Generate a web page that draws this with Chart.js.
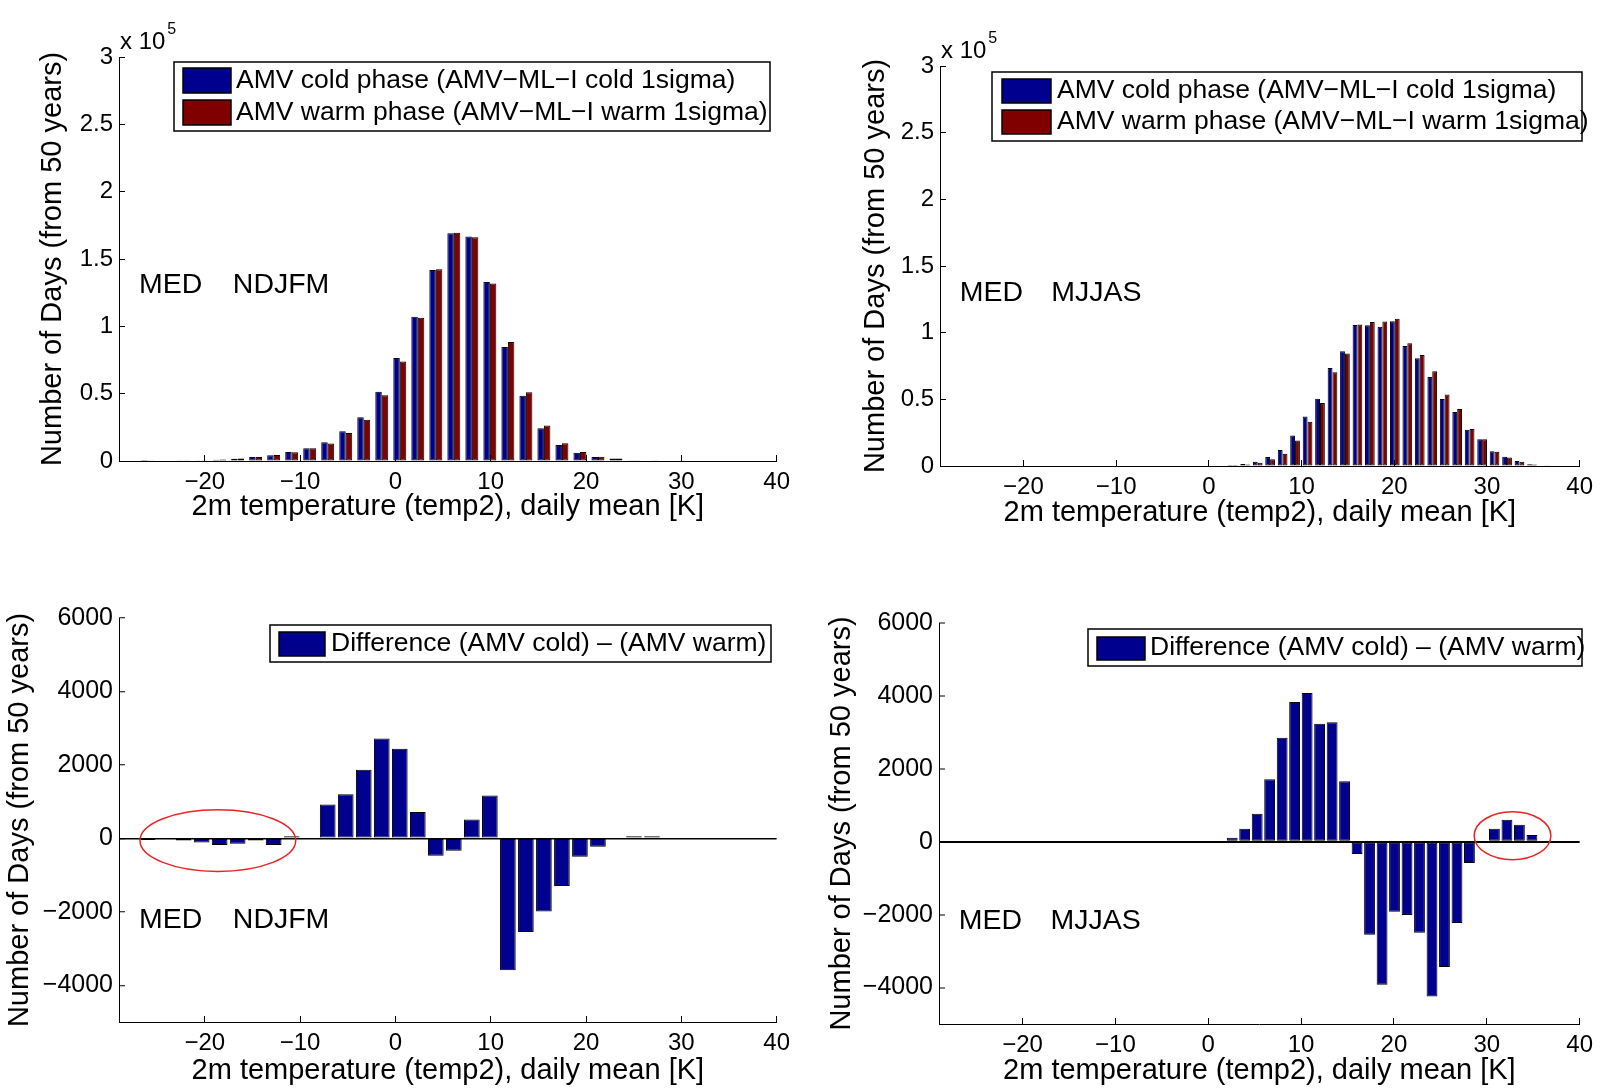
<!DOCTYPE html>
<html>
<head>
<meta charset="utf-8">
<script src="https://cdn.jsdelivr.net/npm/chart.js@4.4.1/dist/chart.umd.min.js"></script>
<style>
html,body{margin:0;padding:0;background:#fff;}
#wrap{position:relative;width:1606px;height:1089px;overflow:hidden;background:#fff;}
canvas{position:absolute;display:block;}
</style>
</head>
<body>
<div id="wrap">
  <canvas id="c1" width="803" height="540" style="left:0;top:0"></canvas>
  <canvas id="c2" width="803" height="540" style="left:803px;top:0"></canvas>
  <canvas id="c3" width="803" height="549" style="left:0;top:540px"></canvas>
  <canvas id="c4" width="803" height="549" style="left:803px;top:540px"></canvas>
</div>
<script>
// ---------------- DATA ----------------
const xTickValues = [-20, -10, 0, 10, 20, 30, 40];
const xTickLabels = ['\u221220', '\u221210', '0', '10', '20', '30', '40'];

const countTicks = [0, 50000, 100000, 150000, 200000, 250000, 300000];
const countTickLabels = ['0', '0.5', '1', '1.5', '2', '2.5', '3'];
const diffTicks = [-4000, -2000, 0, 2000, 4000, 6000];
const diffTickLabels = ['\u22124000', '\u22122000', '0', '2000', '4000', '6000'];

const seriesNames = ['AMV cold phase (AMV\u2212ML\u2212I cold 1sigma)', 'AMV warm phase (AMV\u2212ML\u2212I warm 1sigma)'];
const diffName = 'Difference (AMV cold) \u2013 (AMV warm)';
const xTitle = '2m temperature (temp2), daily mean [K]';
const yTitle = 'Number of Days (from 50 years)';
const regionLabel = 'MED';
const seasonLabels = ['NDJFM', 'MJJAS'];

// NDJFM (winter) bin centres [K]
const winterBins = [-26.00, -24.11, -22.22, -20.33, -18.44, -16.55, -14.66, -12.77, -10.88, -8.99,
  -7.10, -5.21, -3.32, -1.43, 0.46, 2.35, 4.24, 6.13, 8.02, 9.91,
  11.80, 13.69, 15.58, 17.47, 19.36, 21.25, 23.14, 25.03, 26.92];
const winterCold = [50, 0, 200, 500, 900, 1700, 3000, 4200, 6600, 9400,
  14000, 22000, 32500, 51500, 76400, 107100, 141900, 169200, 166700, 133000,
  84700, 48500, 24400, 11800, 6200, 3000, 1800, 600, 300];
const winterWarm = [95, 0, 255, 610, 1080, 1845, 3055, 4380, 6545, 9400,
  13080, 20800, 30630, 48780, 73960, 106385, 142370, 169535, 166185, 131830,
  88290, 51050, 26390, 13100, 6700, 3225, 1800, 545, 245];
const winterDiff = [-45, 0, -55, -110, -180, -145, -55, -180, 55, 0,
  920, 1200, 1870, 2720, 2440, 715, -470, -335, 515, 1170,
  -3590, -2550, -1990, -1300, -500, -225, 0, 55, 55];

// MJJAS (summer) bin centres [K]
const summerBins = [2.58, 3.92, 5.27, 6.61, 7.96, 9.30, 10.65, 11.99, 13.34, 14.68,
  16.03, 17.37, 18.72, 20.06, 21.41, 22.75, 24.10, 25.44, 26.79, 28.13,
  29.48, 30.82, 32.17, 33.51, 34.86, 36.20];
const summerCold = [800, 1500, 3200, 6800, 12000, 22900, 37200, 50500, 73500, 86000,
  105800, 105500, 104500, 108500, 90000, 80800, 66800, 50200, 40500, 27200,
  20000, 11000, 7000, 3700, 1300, 300];
const summerWarm = [690, 1145, 2435, 5085, 9150, 19065, 33120, 47265, 70220, 84340,
  106140, 108055, 108425, 110420, 92010, 83300, 71045, 53635, 42730, 27785,
  20000, 10645, 6395, 3235, 1115, 275];
const summerDiff = [110, 355, 765, 1715, 2850, 3835, 4080, 3235, 3280, 1660,
  -340, -2555, -3925, -1920, -2010, -2500, -4245, -3435, -2230, -585,
  0, 355, 605, 465, 185, 25];

// ---------------- STYLE ----------------
const FONT = "'Liberation Sans', Arial, sans-serif";
const COLD = 'rgb(0,0,143)';
const WARM = 'rgb(128,0,0)';

function toXY(xs, ys) { return xs.map((x, i) => ({ x: x, y: ys[i] })); }

const decorPlugin = {
  id: 'decor',
  afterDraw(chart, args, o) {
    const ctx = chart.ctx, xs = chart.scales.x, ys = chart.scales.y, ca = chart.chartArea;
    ctx.save();
    if (o.ellipse) {
      const e = o.ellipse;
      const cx = xs.getPixelForValue(e.cx), cy = ys.getPixelForValue(e.cy);
      const rx = Math.abs(xs.getPixelForValue(e.cx + e.rx) - cx);
      const ry = Math.abs(ys.getPixelForValue(e.cy + e.ry) - cy);
      ctx.beginPath();
      ctx.ellipse(cx, cy, rx, ry, 0, 0, Math.PI * 2);
      ctx.strokeStyle = 'rgb(235,35,35)';
      ctx.lineWidth = 1.5;
      ctx.stroke();
    }
    if (o.legend) {
      const L = o.legend;
      const [bx1, by1, bx2, by2] = L.box;
      ctx.fillStyle = '#fff';
      ctx.fillRect(bx1, by1, bx2 - bx1, by2 - by1);
      ctx.strokeStyle = '#000';
      ctx.lineWidth = 1.5;
      ctx.strokeRect(bx1, by1, bx2 - bx1, by2 - by1);
      ctx.font = L.fontSize + 'px ' + FONT;
      ctx.textBaseline = 'middle';
      ctx.textAlign = 'left';
      L.rows.forEach((r, i) => {
        const ds = chart.data.datasets[i];
        const [sx1, sy1, sx2, sy2] = r.sw;
        ctx.fillStyle = ds.backgroundColor;
        ctx.fillRect(sx1, sy1, sx2 - sx1, sy2 - sy1);
        ctx.lineWidth = 1.5;
        ctx.strokeStyle = '#000';
        ctx.strokeRect(sx1, sy1, sx2 - sx1, sy2 - sy1);
        ctx.fillStyle = '#000';
        ctx.fillText(ds.label, r.tx, r.ty);
      });
    }
    if (o.labels) {
      ctx.font = o.labelSize + 'px ' + FONT;
      ctx.fillStyle = '#000';
      ctx.textBaseline = 'middle';
      ctx.textAlign = 'left';
      o.labels.forEach(t => {
        ctx.fillText(t.text, xs.getPixelForValue(t.x), ys.getPixelForValue(t.y));
      });
    }
    if (o.exponent) {
      ctx.fillStyle = '#000';
      ctx.textAlign = 'left';
      ctx.textBaseline = 'middle';
      ctx.font = '24px ' + FONT;
      const base = 'x 10';
      const x0 = ca.left + 1, y0 = ca.top - 15;
      ctx.fillText(base, x0, y0);
      const w = ctx.measureText(base).width;
      ctx.font = '16px ' + FONT;
      ctx.fillText(o.exponent, x0 + w + 2, ca.top - 27);
    }
    ctx.restore();
  }
};

function xScale(g) {
  return {
    type: 'linear', min: -29, max: 40, offset: false,
    afterBuildTicks: s => { s.ticks = xTickValues.map(v => ({ value: v })); },
    afterFit: s => { s.height = g.ch - g.B; },
    ticks: {
      autoSkip: false, maxRotation: 0, minRotation: 0, color: '#000', padding: 13,
      font: { family: FONT, size: 24 },
      callback: v => { const i = xTickValues.indexOf(v); return i >= 0 ? xTickLabels[i] : ''; }
    },
    grid: { offset: false, drawOnChartArea: false, drawTicks: true, tickLength: -6, tickColor: '#000', tickWidth: 1 },
    border: { display: true, color: '#000', width: 1 },
    title: { display: true, text: xTitle, color: '#000', font: { family: FONT, size: 29 }, padding: { top: 0, bottom: g.xtPad } }
  };
}

function yScale(g, tv, tl, min, max, fontSize, zeroLine) {
  return {
    type: 'linear', min: min, max: max,
    afterBuildTicks: s => { s.ticks = tv.map(v => ({ value: v })); },
    afterFit: s => { s.width = g.L; },
    ticks: {
      autoSkip: false, color: '#000', padding: 12, font: { family: FONT, size: fontSize },
      callback: v => { const i = tv.indexOf(v); return i >= 0 ? tl[i] : ''; }
    },
    grid: {
      drawOnChartArea: !!zeroLine, drawTicks: true, tickLength: -6, tickColor: '#000', tickWidth: 1,
      color: c => (zeroLine && c.tick && c.tick.value === 0) ? '#000' : 'rgba(0,0,0,0)',
      lineWidth: zeroLine || 1
    },
    border: { display: true, color: '#000', width: 1 },
    title: { display: true, text: yTitle, color: '#000', font: { family: FONT, size: 29 }, padding: { top: g.ytPad, bottom: 0 } }
  };
}

function makeChart(id, g, datasets, y, decor) {
  return new Chart(document.getElementById(id), {
    type: 'bar',
    data: { datasets: datasets },
    options: {
      responsive: false, animation: false, devicePixelRatio: 1,
      layout: { padding: { left: 0, top: g.T, right: g.cw - g.R, bottom: 0 } },
      scales: { x: xScale(g), y: y },
      plugins: { legend: { display: false }, tooltip: { enabled: false }, decor: decor }
    },
    plugins: [decorPlugin]
  });
}

function pairSets(bins, cold, warm, cat) {
  const common = { borderColor: '#000', borderWidth: 1, borderSkipped: false, inflateAmount: 0, barPercentage: 1, categoryPercentage: cat };
  return [
    Object.assign({ label: seriesNames[0], data: toXY(bins, cold), backgroundColor: COLD }, common),
    Object.assign({ label: seriesNames[1], data: toXY(bins, warm), backgroundColor: WARM }, common)
  ];
}
function diffSet(bins, diff) {
  return [{ label: diffName, data: toXY(bins, diff), backgroundColor: COLD, borderColor: '#000', borderWidth: 1,
    borderSkipped: false, inflateAmount: 0, barPercentage: 0.87, categoryPercentage: 1 }];
}

const g1 = { cw: 803, ch: 540, L: 119, T: 57, R: 778, B: 461, ytPad: 35.6, xtPad: 15.6 };
const g2 = { cw: 803, ch: 540, L: 137, T: 66, R: 787, B: 466, ytPad: 55.6, xtPad: 9.6 };
const g3 = { cw: 803, ch: 549, L: 119, T: 78, R: 778, B: 482, ytPad: 2.6, xtPad: 0.6 };
const g4 = { cw: 803, ch: 549, L: 136, T: 83, R: 787, B: 484, ytPad: 21.6, xtPad: 0.6 };

makeChart('c1', g1, pairSets(winterBins, winterCold, winterWarm, 0.72),
  yScale(g1, countTicks, countTickLabels, 0, 300000, 24, 0),
  {
    legend: { box: [174, 62, 770, 131], fontSize: 26.5,
      rows: [{ sw: [183, 68, 231, 93], tx: 236, ty: 80.5 }, { sw: [183, 100, 231, 125], tx: 236, ty: 112.5 }] },
    labelSize: 28.5,
    labels: [{ text: regionLabel, x: -26.9, y: 130700 }, { text: seasonLabels[0], x: -17.06, y: 130700 }],
    exponent: '5'
  });

makeChart('c2', g2, pairSets(summerBins, summerCold, summerWarm, 0.78),
  yScale(g2, countTicks, countTickLabels, 0, 300000, 24, 0),
  {
    legend: { box: [189, 72, 779, 141], fontSize: 26.5,
      rows: [{ sw: [199, 79, 248, 103], tx: 254, ty: 91 }, { sw: [199, 110, 248, 134], tx: 254, ty: 122 }] },
    labelSize: 28.5,
    labels: [{ text: regionLabel, x: -26.88, y: 129750 }, { text: seasonLabels[1], x: -17.0, y: 129750 }],
    exponent: '5'
  });

makeChart('c3', g3, diffSet(winterBins, winterDiff),
  yScale(g3, diffTicks, diffTickLabels, -5000, 6000, 25, 1.5),
  {
    legend: { box: [270, 85, 771, 122], fontSize: 26.5,
      rows: [{ sw: [279, 92, 325, 116], tx: 331, ty: 104 }] },
    labelSize: 28.5,
    labels: [{ text: regionLabel, x: -26.9, y: -2213 }, { text: seasonLabels[0], x: -17.06, y: -2213 }],
    ellipse: { cx: -18.63, cy: -60, rx: 8.17, ry: 840 }
  });

makeChart('c4', g4, diffSet(summerBins, summerDiff),
  yScale(g4, diffTicks, diffTickLabels, -5000, 6000, 25, 2),
  {
    legend: { box: [285, 89, 779, 126], fontSize: 26.5,
      rows: [{ sw: [294, 97, 342, 120], tx: 347, ty: 108 }] },
    labelSize: 28.5,
    labels: [{ text: regionLabel, x: -26.88, y: -2170 }, { text: seasonLabels[1], x: -17.0, y: -2170 }],
    ellipse: { cx: 32.77, cy: 165, rx: 4.13, ry: 658 }
  });
</script>
</body>
</html>
